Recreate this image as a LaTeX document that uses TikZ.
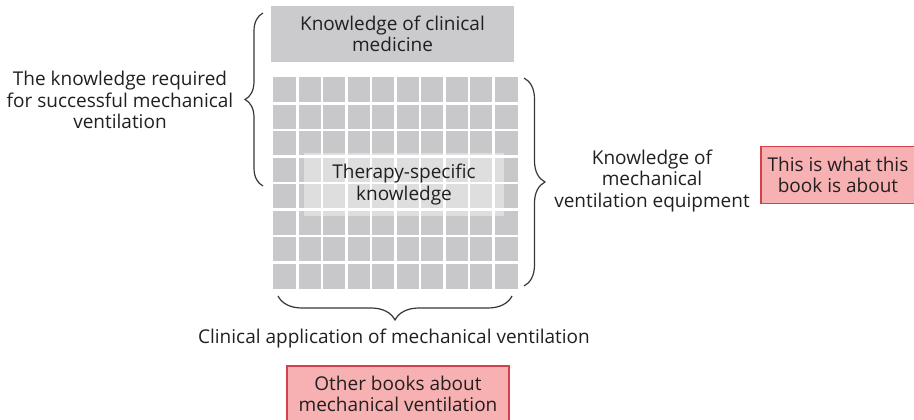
\documentclass[tikz,border=0pt]{standalone}
\usepackage{fontspec}
\setmainfont{Open Sans}
\usetikzlibrary{decorations.pathreplacing}
\definecolor{cellgray}{HTML}{C8C8CA}
\definecolor{boxgray}{HTML}{CBCBCD}
\definecolor{notepink}{HTML}{F7B1B2}
\definecolor{notered}{HTML}{D6404A}
\definecolor{inkdark}{HTML}{231F20}
\tikzset{
  lbl/.style={align=center, text=inkdark, inner sep=0pt,
    font=\fontsize{19}{21.5}\selectfont},
  topbox/.style={lbl, fill=boxgray, minimum width=243pt, minimum height=56pt},
  therapybox/.style={lbl, fill=white, fill opacity=0.4, text opacity=1,
    minimum width=200pt, minimum height=63pt},
  notebox/.style={lbl, draw=notered, fill=notepink, line width=1.3pt},
  curly/.style={decorate, decoration={brace, amplitude=#1},
    draw=inkdark!90, line width=1.2pt},
}
\begin{document}
\begin{tikzpicture}[x=1pt,y=-1pt]
  \useasboundingbox (0,0) rectangle (914,420);
  % grid
  \coordinate (gridNW) at (273,77);
  \coordinate (gridSE) at (518,289);
  \fill[cellgray] (gridNW) rectangle (gridSE);
  \foreach \i in {1,...,9}
    \draw[white, line width=2.2pt] ({273+24.5*\i},77) -- ({273+24.5*\i},289);
  \foreach \j in {1,...,7}
    \draw[white, line width=2.2pt] (273,{77+26.5*\j}) -- (518,{77+26.5*\j});
  % boxes
  \node[topbox] (clinical) at (392.5,34) {Knowledge of clinical\\medicine};
  \node[therapybox] (therapy) at (404,184.5) {Therapy-specific\\knowledge};
  \node[notebox, minimum width=154pt, minimum height=57pt] (thisbook) at (838,175)
    {This is what this\\book is about};
  \node[notebox, minimum width=222pt, minimum height=56pt] (otherbooks) at (398,394)
    {Other books about\\mechanical ventilation};
  % labels
  \node[lbl] (required) at (120,100) {The knowledge required\\for successful mechanical\\ventilation};
  \node[lbl] (equipment) at (652,181) {Knowledge of\\mechanical\\ventilation equipment};
  \node[lbl] (application) at (394,339) {Clinical application of mechanical ventilation};
  % braces
  \coordinate (lbTop) at (263,13);
  \coordinate (lbBot) at (263,186);
  \coordinate (rbTop) at (524,78);
  \coordinate (rbBot) at (524,286);
  \coordinate (bbLeft) at (278,296);
  \coordinate (bbRight) at (512,296);
  \draw[curly=18pt] (lbBot) -- (lbTop);
  \draw[curly=21pt] (rbTop) -- (rbBot);
  \draw[curly=24pt] (bbRight) -- (bbLeft);
\end{tikzpicture}
\end{document}
